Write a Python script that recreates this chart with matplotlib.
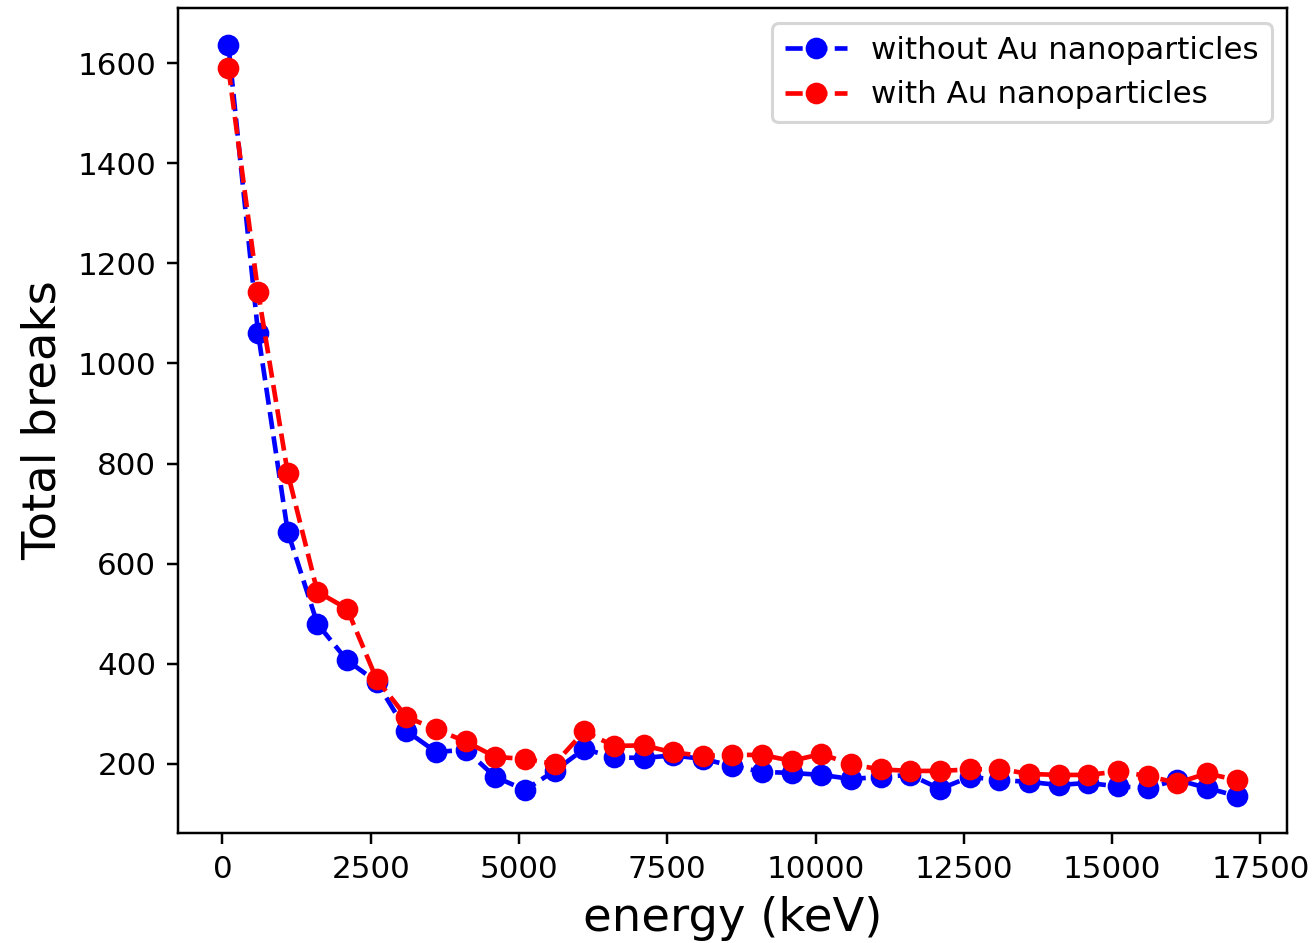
import matplotlib
matplotlib.use("Agg")
import matplotlib.pyplot as plt

energy = [100 + 500 * i for i in range(35)]

without_au = [1636, 1061, 664, 480, 407, 364, 266, 224, 228, 174, 148, 186,
              230, 213, 212, 217, 210, 196, 184, 182, 178, 170, 174, 178,
              150, 174, 168, 164, 158, 162, 155, 152, 168, 152, 136]

with_au = [1590, 1143, 781, 544, 510, 369, 294, 269, 245, 214, 210, 200,
           265, 236, 237, 223, 216, 218, 218, 206, 220, 199, 189, 186,
           186, 189, 190, 180, 178, 178, 185, 176, 162, 181, 168]

dpi = 223
fig = plt.figure(figsize=(1315 / dpi, 943 / dpi), dpi=dpi)
ax = fig.add_axes([178 / 1315, 110 / 943, (1287 - 178) / 1315, (833 - 8) / 943])

ax.plot(energy, without_au, 'o--', color='blue', label='without Au nanoparticles')
ax.plot(energy, with_au, 'o--', color='red', label='with Au nanoparticles')

ax.set_xlabel('energy (keV)', fontsize=15)
ax.set_ylabel('Total breaks', fontsize=15)
ax.set_xticks([0, 2500, 5000, 7500, 10000, 12500, 15000, 17500])
ax.set_xlim(-750, 17950)
ax.set_ylim(62, 1710)
ax.legend(loc='upper right', fontsize=10)

fig.savefig('out.png', dpi=dpi)
